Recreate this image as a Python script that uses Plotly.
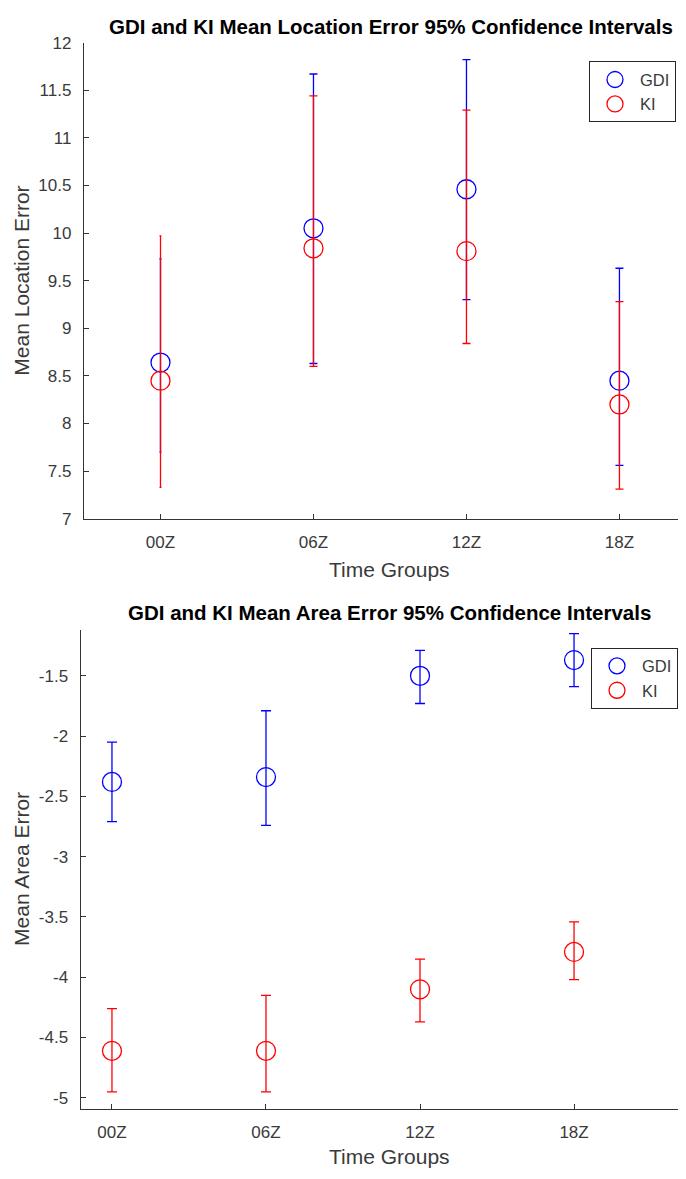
import plotly.graph_objects as go

# ---------------- data ----------------
categories = ["00Z", "06Z", "12Z", "18Z"]

loc_gdi_mean = [8.64, 10.05, 10.46, 8.45]
loc_gdi_low = [7.70, 8.63, 9.30, 7.56]
loc_gdi_high = [9.73, 11.67, 11.82, 9.63]
loc_ki_mean = [8.45, 9.84, 9.81, 8.20]
loc_ki_low = [7.33, 8.60, 8.84, 7.31]
loc_ki_high = [9.97, 11.44, 11.29, 9.28]

area_gdi_mean = [-2.38, -2.34, -1.50, -1.37]
area_gdi_low = [-2.71, -2.74, -1.73, -1.59]
area_gdi_high = [-2.05, -1.79, -1.29, -1.15]
area_ki_mean = [-4.61, -4.61, -4.10, -3.79]
area_ki_low = [-4.95, -4.95, -4.37, -4.02]
area_ki_high = [-4.26, -4.15, -3.85, -3.54]

loc_yticks = [7, 7.5, 8, 8.5, 9, 9.5, 10, 10.5, 11, 11.5, 12]
area_yticks = [-5, -4.5, -4, -3.5, -3, -2.5, -2, -1.5]

# ---------------- styles ----------------
colors = {"GDI": "#0000ff", "KI": "#ff0000"}
cap_top = [1, 4, 4, 4]      # cap half-widths (px) per category, top panel
cap_bottom = [5, 5, 5, 5]
FONT = "Liberation Sans, Arial, sans-serif"
TXT = "#3a3a3a"
AX = "#333333"

OFF = 8                      # page body margin
FW, FH = 686 - OFF, 1179 - OFF
xpos = [i + 1 for i in range(len(categories))]

fig = go.Figure()


def add_series(name, mean, low, high, xaxis, yaxis, legend, caps):
    c = colors[name]
    for i in range(len(mean)):
        fig.add_trace(go.Scatter(
            x=[xpos[i]], y=[mean[i]], mode="markers",
            marker=dict(size=1, color="rgba(0,0,0,0)"),
            error_y=dict(type="data", symmetric=False,
                         array=[high[i] - mean[i]], arrayminus=[mean[i] - low[i]],
                         color=c, thickness=1.3, width=caps[i]),
            xaxis=xaxis, yaxis=yaxis, showlegend=False, hoverinfo="skip",
            legend=legend))
    fig.add_trace(go.Scatter(
        x=xpos, y=mean, mode="markers", name=name,
        marker=dict(symbol="circle-open", size=19, color=c, line=dict(width=1.3, color=c)),
        xaxis=xaxis, yaxis=yaxis, legend=legend))


add_series("GDI", loc_gdi_mean, loc_gdi_low, loc_gdi_high, "x", "y", "legend", cap_top)
add_series("KI", loc_ki_mean, loc_ki_low, loc_ki_high, "x", "y", "legend", cap_top)
add_series("GDI", area_gdi_mean, area_gdi_low, area_gdi_high, "x2", "y2", "legend2", cap_bottom)
add_series("KI", area_ki_mean, area_ki_low, area_ki_high, "x2", "y2", "legend2", cap_bottom)


def px_x(p):
    return (p - OFF) / FW


def px_y(p):
    return (FH - (p - OFF)) / FH


axis_common = dict(showline=True, linecolor=AX, linewidth=1.3, ticks="inside",
                   ticklen=5, tickcolor=AX, tickwidth=1.2, showgrid=False,
                   zeroline=False, mirror=False,
                   tickfont=dict(family=FONT, size=17, color=TXT))

legend_common = dict(xanchor="left", yanchor="top", bordercolor="#262626", borderwidth=1,
                     bgcolor="white", itemwidth=40,
                     font=dict(family=FONT, size=16.5, color=TXT))

fig.update_layout(
    width=FW, height=FH,
    margin=dict(l=0, r=0, t=0, b=0),
    paper_bgcolor="white", plot_bgcolor="white",
    xaxis=dict(domain=[px_x(84), 1], range=[0.5, 4.435], anchor="y",
               tickvals=xpos, ticktext=categories, ticklabelstandoff=8, **axis_common),
    yaxis=dict(domain=[px_y(518), px_y(34)], range=[7, 12], anchor="x",
               tickvals=loc_yticks, ticktext=[f"{v:g}" for v in loc_yticks],
               ticklabelstandoff=8, **axis_common),
    xaxis2=dict(domain=[px_x(80.7), 1], range=[0.797, 4.727], anchor="y2",
                tickvals=xpos, ticktext=categories, ticklabelstandoff=8, **axis_common),
    yaxis2=dict(domain=[px_y(1117.7), px_y(630.7)], range=[-5.09, -1.117], anchor="x2",
                tickvals=area_yticks, ticktext=[f"{v:g}" for v in area_yticks],
                ticklabelstandoff=8, **axis_common),
    legend=dict(x=px_x(589), y=px_y(53), **legend_common),
    legend2=dict(x=px_x(591), y=px_y(649), **legend_common),
    showlegend=True,
)


def label(text, x, y, size, color, bold=False, angle=0):
    return dict(text=f"<b>{text}</b>" if bold else text, x=px_x(x), y=px_y(y),
                xref="paper", yref="paper", xanchor="center", yanchor="middle",
                showarrow=False, textangle=angle,
                font=dict(family=FONT, size=size, color=color))


ann = [
    label("GDI and KI Mean Location Error 95% Confidence Intervals", 391, 18, 20.5, "black", True),
    label("GDI and KI Mean Area Error 95% Confidence Intervals", 390, 613, 20.5, "black", True),
    label("Time Groups", 390, 570, 21, TXT),
    label("Time Groups", 390, 1166, 21, TXT),
    label("Mean Location Error", 22, 276, 21, TXT, angle=-90),
    label("Mean Area Error", 22, 874, 21, TXT, angle=-90),
]
fig.update_layout(annotations=ann)

fig.write_html("out.html")
